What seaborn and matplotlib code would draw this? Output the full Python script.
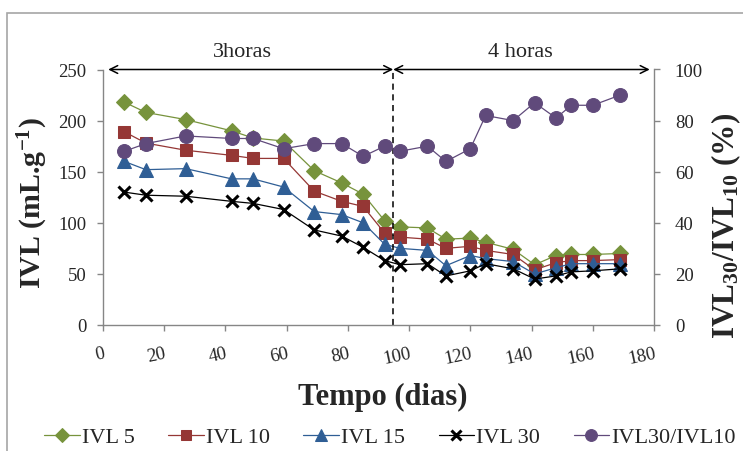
import matplotlib
matplotlib.use("Agg")
import matplotlib.pyplot as plt
import seaborn as sns
from matplotlib.patches import Rectangle

# ---- data ----
dias = [7, 14, 27, 42, 49, 59, 69, 78, 85, 92, 97, 106, 112, 120, 125, 134, 141, 148, 153, 160, 169]
ivl5 = [218, 208, 201, 190, 183, 180, 151, 139, 128, 102, 96, 95, 84, 85, 81, 74, 59, 68, 69, 69, 70]
ivl10 = [189, 178, 171, 166, 163, 163, 131, 121, 116, 90, 86, 84, 75, 77, 73, 69, 54, 61, 63, 63, 64]
ivl15 = [160, 152, 153, 143, 143, 135, 111, 108, 100, 79, 75, 73, 58, 68, 65, 62, 50, 56, 60, 60, 60]
ivl30 = [130, 127, 126, 121, 119, 113, 93, 87, 76, 63, 59, 60, 48, 53, 60, 55, 45, 48, 52, 53, 55]
razao = [68, 71, 74, 73, 73, 69, 71, 71, 66, 70, 68, 70, 64, 69, 82, 80, 87, 81, 86, 86, 90]
series_names = ["IVL 5", "IVL 10", "IVL 15", "IVL 30", "IVL30/IVL10"]
x_ticks = [0, 20, 40, 60, 80, 100, 120, 140, 160, 180]
yl_ticks = [0, 50, 100, 150, 200, 250]
yr_ticks = [0, 20, 40, 60, 80, 100]
troca_dia = 94.8
periodos = ["3horas", "4 horas"]

sns.set_theme(style="white")
plt.rcParams["font.family"] = ["Liberation Serif", "DejaVu Serif"]
plt.rcParams["mathtext.fontset"] = "custom"
plt.rcParams["mathtext.rm"] = "Liberation Serif"
plt.rcParams["mathtext.bf"] = "Liberation Serif:bold"
plt.rcParams["mathtext.it"] = "Liberation Serif:italic"

W, H = 743, 452
fig = plt.figure(figsize=(W / 100, H / 100), dpi=100)
ax = fig.add_axes([103 / W, 1 - 326 / H, (654 - 103) / W, (326 - 70.5) / H])
ax2 = ax.twinx()

# chart-area border
fig.patches.append(Rectangle((7 / W, -0.1), 1.2, 1 - 14 / H + 0.1, transform=fig.transFigure,
                             fill=False, edgecolor="#A6A6A6", linewidth=1.2))

green, red, blue, black, purple = "#77933C", "#953735", "#2F5E95", "#000000", "#604A7B"
lw = 0.9
sns.lineplot(x=dias, y=ivl5, ax=ax, color=green, marker="D", markersize=8.5,
             markeredgecolor=green, linewidth=lw, label=series_names[0], legend=False)
sns.lineplot(x=dias, y=ivl10, ax=ax, color=red, marker="s", markersize=8.5,
             markeredgecolor=red, linewidth=lw, label=series_names[1], legend=False)
sns.lineplot(x=dias, y=ivl15, ax=ax, color=blue, marker="^", markersize=9.5,
             markeredgecolor=blue, linewidth=lw, label=series_names[2], legend=False)
sns.lineplot(x=dias, y=ivl30, ax=ax, color=black, marker="x", markersize=8.5,
             markeredgecolor=black, markeredgewidth=2.2, linewidth=lw,
             label=series_names[3], legend=False)
sns.lineplot(x=dias, y=razao, ax=ax2, color=purple, marker="o", markersize=10,
             markeredgecolor=purple, linewidth=lw, label=series_names[4], legend=False)

ax.set_xlim(0, 180)
ax.set_ylim(0, 250)
ax2.set_ylim(0, 100)
ax.set_xticks(x_ticks)
ax.set_yticks(yl_ticks)
ax2.set_yticks(yr_ticks)
ax.set_xticklabels([str(v) for v in x_ticks], rotation=12, ha="right", va="top",
                   rotation_mode="anchor")

gray = "#868686"
for a in (ax, ax2):
    for s in a.spines.values():
        s.set_color(gray)
        s.set_linewidth(1.0)
    a.spines["top"].set_visible(False)
    a.grid(False)
ax.spines["right"].set_visible(False)
ax2.spines["left"].set_visible(False)
ax2.spines["bottom"].set_visible(False)

ax.tick_params(axis="y", which="both", left=True, length=4, width=1, color=gray,
               labelsize=13.5, pad=8, direction="out")
ax.tick_params(axis="x", bottom=True, length=4, width=1, color=gray,
               labelsize=13.5, pad=10, direction="out")
ax2.tick_params(axis="y", right=True, length=4, width=1, color=gray,
                labelsize=13.5, pad=11, direction="out")

ax.set_xlabel("Tempo (dias)", fontsize=22, fontweight="bold")
ax.set_ylabel(r"IVL (mL.g$^{\mathbf{-1}}$)", fontsize=21.5, fontweight="bold")
ax2.set_ylabel(r"IVL$_{\mathbf{30}}$/IVL$_{\mathbf{10}}$ (%)", fontsize=22.5,
               fontweight="bold")
ax.xaxis.set_label_coords(0.508, -0.223)
ax.yaxis.set_label_coords(-0.097, 0.48)
ax2.yaxis.set_label_coords(1.1, 0.39)

# period markers
ax.axvline(troca_dia, ymin=0, ymax=1, color="black", linestyle=(0, (4, 3)), linewidth=1.1)
arrow = dict(arrowstyle="<->", color="black", linewidth=1.1, mutation_scale=14,
             shrinkA=0, shrinkB=0)
ax.annotate("", xy=(1.7, 250), xytext=(troca_dia, 250), arrowprops=arrow, annotation_clip=False)
ax.annotate("", xy=(troca_dia, 250), xytext=(178.6, 250), arrowprops=arrow, annotation_clip=False)
ax.text(45.4, 258, periodos[0], fontsize=16, ha="center", va="bottom")
ax.text(136.5, 258, periodos[1], fontsize=16, ha="center", va="bottom")

handles = ax.get_lines()[:4] + ax2.get_lines()[:1]
handles = [h for h in handles if h.get_label() in series_names]
fig.legend(handles, series_names, loc="center", bbox_to_anchor=(0.525, 1 - 438 / H),
           ncol=5, frameon=False, fontsize=16, handlelength=1.6, handletextpad=0.1,
           columnspacing=1.5, markerscale=0.85)

fig.savefig("out.png", dpi=100)
